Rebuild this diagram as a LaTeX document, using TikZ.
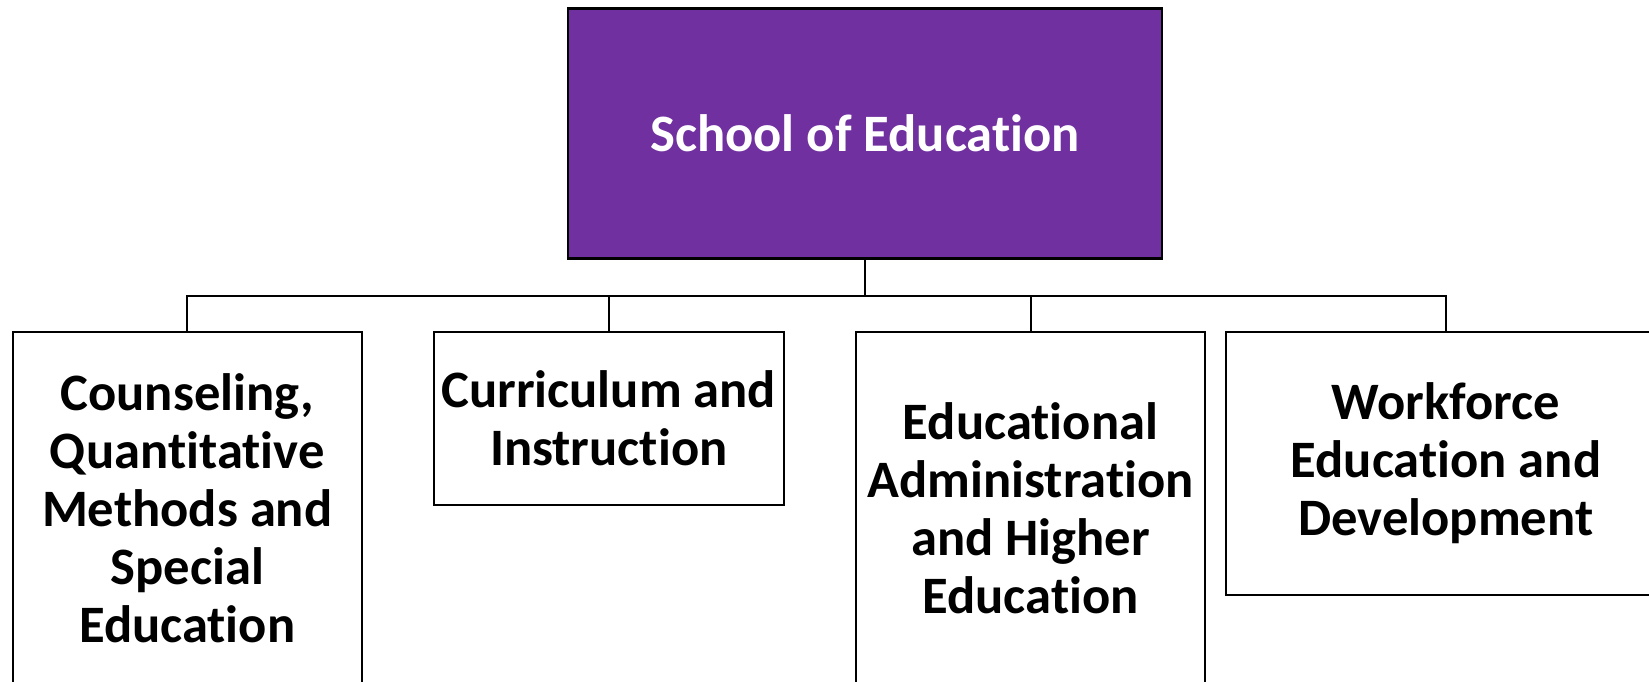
\documentclass[tikz,border=0pt]{standalone}
\usepackage{fontspec}
\setmainfont{Carlito}[Ligatures={NoCommon}]
\definecolor{soepurple}{HTML}{7030A0}
\begin{document}
\begin{tikzpicture}[x=0.5pt,y=-0.5pt,
  unitbox/.style={draw=black,line width=1pt,fill=white,inner sep=0pt,align=center,
    font=\bfseries\fontsize{26.3pt}{29pt}\selectfont,text=black},
  headbox/.style={draw=black,line width=1.2pt,fill=soepurple,inner sep=0pt,align=center,
    font=\bfseries\fontsize{26.3pt}{29pt}\selectfont,text=white},
  link/.style={draw=black,line width=1pt}]
\useasboundingbox (0,0) rectangle (1649,681);
\clip (0,0) rectangle (1649,681);
\fill[white] (0,0) rectangle (1649,681);
\node[headbox,minimum width=297pt,minimum height=125pt] (top) at (865,133.5) {School of Education};
\node[unitbox,minimum width=174.6pt,minimum height=176pt] (c1) at (187.2,508)
  {Counseling,\\Quantitative\\Methods and\\Special\\Education};
\node[unitbox,minimum width=174.75pt,minimum height=86.5pt] (c2) at (608.75,418.5)
  {Curriculum and\\Instruction};
\node[unitbox,minimum width=174.5pt,minimum height=176pt] (c3) at (1030.5,508)
  {Educational\\Administration\\and Higher\\Education};
\node[unitbox,minimum width=220pt,minimum height=131.5pt] (c4) at (1446,463.5)
  {Workforce\\Education and\\Development};
\coordinate (bus) at (865,295.5);
\draw[link] (top.south) -- (bus);
\draw[link] (c1.north) |- (bus) -| (c4.north);
\draw[link] (c2.north) -- (c2.north |- bus);
\draw[link] (c3.north) -- (c3.north |- bus);
\end{tikzpicture}
\end{document}
